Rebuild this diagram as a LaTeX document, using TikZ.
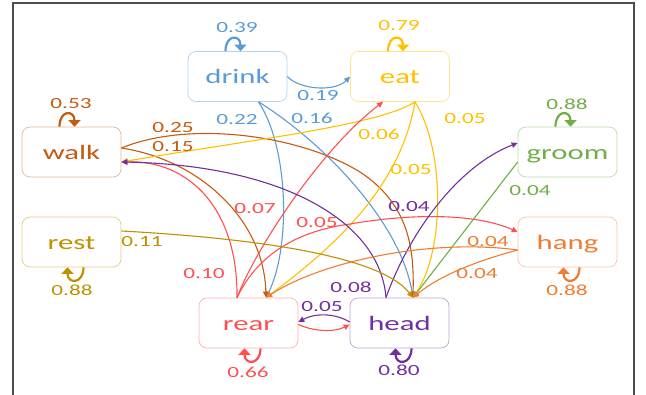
\documentclass[tikz,border=0pt]{standalone}
\usepackage{fontspec}
\setmainfont[FakeStretch=1.5]{Carlito}
\usetikzlibrary{arrows.meta}
\definecolor{cblue}{HTML}{5B9BD5}
\definecolor{cyel}{HTML}{FFC000}
\definecolor{cbrown}{HTML}{C55A11}
\definecolor{cgreen}{HTML}{70AD47}
\definecolor{colive}{HTML}{BF9000}
\definecolor{corange}{HTML}{ED7D31}
\definecolor{cred}{HTML}{FF5050}
\definecolor{cpurple}{HTML}{7030A0}
\begin{document}
\begin{tikzpicture}[x=1pt,y=-1pt,
  statebox/.style={draw=#1!45, text=#1, rounded corners=8pt, minimum width=99pt, minimum height=50pt, inner sep=0pt, line width=0.7pt, font=\fontsize{20.5}{20.5}\selectfont, text height=15pt, text depth=0pt},
  lbl/.style={text=#1, inner sep=0pt, font=\fontsize{15.5}{16}\selectfont},
  conn/.style={draw=#1, line width=1.1pt, -{Triangle[length=6pt,width=5.5pt]}},
  selfarc/.style={draw=#1, line width=2.2pt, -{Triangle[length=6.5pt,width=12pt]}}]
\useasboundingbox (0,0) rectangle (646,395);
\draw[black!70, line width=1.2pt] (13,395) -- (13,3) -- (634,3) -- (634,395);

% nodes
\node[statebox=cblue]   (drink) at (237.5,76.5) {drink};
\node[statebox=cyel]    (eat)   at (400,76.5)   {eat};
\node[statebox=cbrown]  (walk)  at (71.5,152)   {walk};
\node[statebox=cgreen]  (groom) at (567.5,152)  {groom};
\node[statebox=colive]  (rest)  at (71.5,242)   {rest};
\node[statebox=corange] (hang)  at (567.5,242)  {hang};
\node[statebox=cred]    (rear)  at (248.5,323)  {rear};
\node[statebox=cpurple] (head)  at (399.5,323)  {head};

% self loops (top)
\draw[selfarc=cblue] ([xshift=-12pt]drink.north) .. controls ([xshift=-12pt,yshift=17pt]drink.north) and ([xshift=3pt,yshift=17pt]drink.north) .. ([xshift=3pt]drink.north);
\draw[selfarc=cyel] ([xshift=-12pt]eat.north) .. controls ([xshift=-12pt,yshift=17pt]eat.north) and ([xshift=3pt,yshift=17pt]eat.north) .. ([xshift=3pt]eat.north);
\draw[selfarc=cbrown] ([xshift=-12pt]walk.north) .. controls ([xshift=-12pt,yshift=17pt]walk.north) and ([xshift=3pt,yshift=17pt]walk.north) .. ([xshift=3pt]walk.north);
\draw[selfarc=cgreen] ([xshift=-12pt]groom.north) .. controls ([xshift=-12pt,yshift=17pt]groom.north) and ([xshift=3pt,yshift=17pt]groom.north) .. ([xshift=3pt]groom.north);
% self loops (bottom)
\draw[selfarc=colive] ([xshift=12pt]rest.south) .. controls ([xshift=12pt,yshift=-17pt]rest.south) and ([xshift=-4pt,yshift=-17pt]rest.south) .. ([xshift=-4pt]rest.south);
\draw[selfarc=corange] ([xshift=12pt]hang.south) .. controls ([xshift=12pt,yshift=-17pt]hang.south) and ([xshift=-4pt,yshift=-17pt]hang.south) .. ([xshift=-4pt]hang.south);
\draw[selfarc=cred] ([xshift=12pt]rear.south) .. controls ([xshift=12pt,yshift=-17pt]rear.south) and ([xshift=-4pt,yshift=-17pt]rear.south) .. ([xshift=-4pt]rear.south);
\draw[selfarc=cpurple] ([xshift=12pt]head.south) .. controls ([xshift=12pt,yshift=-17pt]head.south) and ([xshift=-4pt,yshift=-17pt]head.south) .. ([xshift=-4pt]head.south);

% edges
\draw[conn=cblue] (drink.east) .. controls (300,90) and (335,92) .. (eat.west);
\draw[conn=cblue] ([xshift=21pt]drink.south) .. controls (290,150) and (290,250) .. ([xshift=17.5pt]rear.north);
\draw[conn=cblue] ([xshift=21pt]drink.south) .. controls (320,140) and (400,220) .. ([xshift=13.5pt]head.north);
\draw[conn=cbrown] ([yshift=4pt]walk.east) .. controls (190,120) and (300,135) .. (360,172) .. controls (410,205) and (414,250) .. ([xshift=13.5pt]head.north);
\draw[conn=cbrown] ([yshift=4pt]walk.east) .. controls (200,160) and (264,220) .. ([xshift=17.5pt]rear.north);
\draw[conn=cyel] ([xshift=15pt]eat.south) .. controls (380,125) and (250,140) .. ([yshift=-10pt]walk.east);
\draw[conn=cyel] ([xshift=15pt]eat.south) .. controls (400,190) and (330,250) .. ([xshift=17.5pt]rear.north);
\draw[conn=cyel] ([xshift=15pt]eat.south) .. controls (445,150) and (445,250) .. ([xshift=13.5pt]head.north);
\draw[conn=cred] ([xshift=-11.5pt]rear.north) .. controls (238,210) and (190,160) .. ([yshift=-10pt]walk.east);
\draw[conn=cred] ([xshift=-11.5pt]rear.north) .. controls (255,250) and (320,150) .. ([xshift=-17pt]eat.south);
\draw[conn=cred] ([xshift=-11.5pt]rear.north) .. controls (255,260) and (290,232) .. (350,224) .. controls (420,212) and (480,215) .. ([yshift=10pt]hang.west);
\draw[conn=cred] ([yshift=-1.5pt]rear.east) .. controls (315,332) and (335,332) .. ([yshift=-1.5pt]head.west);
\draw[conn=cpurple] ([yshift=1pt]head.west) .. controls (335,313) and (315,313) .. ([yshift=1pt]rear.east);
\draw[conn=cpurple] ([xshift=-13.5pt]head.north) .. controls (380,220) and (280,165) .. ([yshift=-10pt]walk.east);
\draw[conn=cpurple] ([xshift=-13.5pt]head.north) .. controls (410,230) and (460,165) .. ([yshift=9pt]groom.west);
\draw[conn=colive] ([yshift=11pt]rest.east) .. controls (250,238) and (380,255) .. ([xshift=13.5pt]head.north);
\draw[conn=cgreen] ([yshift=-10pt]groom.west) -- ([xshift=13.5pt]head.north);
\draw[conn=corange] ([yshift=-8pt]hang.west) .. controls (430,238) and (320,262) .. ([xshift=17.5pt]rear.north);
\draw[conn=corange] ([yshift=-8pt]hang.west) .. controls (480,260) and (440,275) .. ([xshift=13.5pt]head.north);

% labels
\node[lbl=cblue]   (l01) at (237,28)  {0.39};
\node[lbl=cyel]    (l02) at (399,26)  {0.79};
\node[lbl=cbrown]  (l03) at (71,104)  {0.53};
\node[lbl=cgreen]  (l04) at (567,104) {0.88};
\node[lbl=colive]  (l05) at (72,290)  {0.88};
\node[lbl=cred]    (l06) at (248,372) {0.66};
\node[lbl=cpurple] (l07) at (399,370) {0.80};
\node[lbl=corange] (l08) at (567,290) {0.88};
\node[lbl=cblue]   (l09) at (318,96)  {0.19};
\node[lbl=cblue]   (l10) at (237,120) {0.22};
\node[lbl=cblue]   (l11) at (312,118) {0.16};
\node[lbl=cbrown]  (l12) at (173,128) {0.25};
\node[lbl=cbrown]  (l13) at (173,147) {0.15};
\node[lbl=cyel]    (l14) at (379,134) {0.06};
\node[lbl=cyel]    (l15) at (411,170) {0.05};
\node[lbl=cyel]    (l16) at (465,119) {0.05};
\node[lbl=cred]    (l17) at (255,209) {0.07};
\node[lbl=cred]    (l18) at (317,223) {0.05};
\node[lbl=cred]    (l19) at (204,274) {0.10};
\node[lbl=cpurple] (l20) at (409,207) {0.04};
\node[lbl=cpurple] (l21) at (351,287) {0.08};
\node[lbl=cpurple] (l22) at (322,307) {0.05};
\node[lbl=colive]  (l23) at (142,242) {0.11};
\node[lbl=cgreen]  (l24) at (530,191) {0.04};
\node[lbl=corange] (l25) at (488,242) {0.04};
\node[lbl=corange] (l26) at (477,274) {0.04};
\end{tikzpicture}
\end{document}
